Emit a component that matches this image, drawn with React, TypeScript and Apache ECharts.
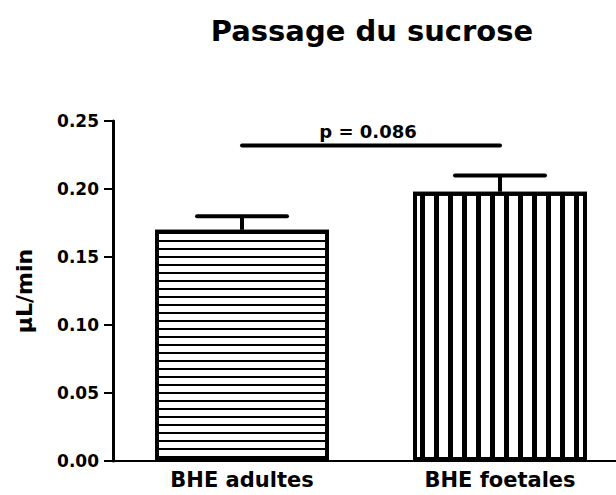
import React, { useEffect, useRef } from "react";
import * as echarts from "echarts";

const titleText = "Passage du sucrose";
const yAxisName = "µL/min";
const categories = ["BHE adultes", "BHE foetales"];
const means = [0.17, 0.198];
const sems = [0.01, 0.012];
const sigLevel = 0.232;
const sigLabel = "p = 0.086";
const yTicks = [0, 0.05, 0.1, 0.15, 0.2, 0.25];

const FONT = "DejaVu Sans";

export default function App() {
  const ref = useRef<HTMLDivElement>(null);
  useEffect(() => {
    document.body.style.margin = "0";
    const chart = echarts.init(ref.current!, null, { renderer: "svg" });
    const errData = categories.map((c, i) => [i, means[i], sems[i]]);
    chart.setOption({
      animation: false,
      backgroundColor: "#ffffff",
      title: {
        text: titleText,
        left: 367,
        top: 11,
        textAlign: "center",
        textStyle: { fontFamily: FONT, fontWeight: "bold", fontSize: 29, color: "#000" },
      },
      grid: { left: 113, top: 121, bottom: 34, width: 516, outerBoundsMode: "none", containLabel: false },
      xAxis: {
        type: "category",
        data: categories,
        axisLine: { lineStyle: { color: "#000", width: 2 } },
        axisTick: { alignWithLabel: true, length: 7, lineStyle: { color: "#000", width: 2 } },
        axisLabel: { fontFamily: FONT, fontWeight: "bold", fontSize: 21, color: "#000", margin: 8 },
      },
      yAxis: {
        type: "value",
        min: yTicks[0],
        max: yTicks[yTicks.length - 1],
        interval: 0.05,
        name: yAxisName,
        nameLocation: "middle",
        nameGap: 78,
        nameTextStyle: { fontFamily: FONT, fontWeight: "bold", fontSize: 22, color: "#000" },
        splitLine: { show: false },
        axisLine: { show: true, lineStyle: { color: "#000", width: 3 } },
        axisTick: { show: true, length: 9, lineStyle: { color: "#000", width: 2 } },
        axisLabel: {
          fontFamily: FONT,
          fontWeight: "bold",
          fontSize: 17,
          color: "#000",
          margin: 14,
          formatter: (v: number) => v.toFixed(2),
        },
      },
      series: [
        {
          type: "bar",
          barWidth: 174,
          data: means.map((v, i) => ({
            value: v,
            itemStyle:
              i === 0
                ? {
                    color: "#fff",
                    borderColor: "#000",
                    borderWidth: 4,
                    decal: {
                      symbol: "rect",
                      symbolSize: 1,
                      color: "#000",
                      backgroundColor: "#fff",
                      dashArrayX: [20, 0],
                      dashArrayY: [2, 5.5],
                    },
                  }
                : {
                    color: "#fff",
                    borderColor: "#000",
                    borderWidth: 4,
                    decal: {
                      symbol: "rect",
                      symbolSize: 1,
                      color: "#000",
                      backgroundColor: "#fff",
                      dashArrayX: [5, 8.2],
                      dashArrayY: [20, 0],
                    },
                  },
          })),
          z: 2,
        },
        {
          type: "custom",
          data: errData,
          z: 3,
          renderItem: (params: any, api: any) => {
            const x = api.value(0);
            const m = api.value(1);
            const s = api.value(2);
            const p0 = api.coord([x, m]);
            const p1 = api.coord([x, m + s]);
            const half = 45;
            return {
              type: "group",
              children: [
                {
                  type: "line",
                  shape: { x1: p0[0], y1: p0[1], x2: p1[0], y2: p1[1] },
                  style: { stroke: "#000", lineWidth: 4 },
                },
                {
                  type: "line",
                  shape: { x1: p1[0] - half, y1: p1[1], x2: p1[0] + half, y2: p1[1] },
                  style: { stroke: "#000", lineWidth: 4, lineCap: "round" },
                },
              ],
            };
          },
        },
        {
          type: "custom",
          data: [[0, 1, sigLevel]],
          z: 3,
          renderItem: (params: any, api: any) => {
            const a = api.coord([api.value(0), api.value(2)]);
            const b = api.coord([api.value(1), api.value(2)]);
            return {
              type: "group",
              children: [
                {
                  type: "line",
                  shape: { x1: a[0], y1: a[1], x2: b[0], y2: b[1] },
                  style: { stroke: "#000", lineWidth: 4, lineCap: "round" },
                },
                {
                  type: "text",
                  x: (a[0] + b[0]) / 2 - 3,
                  y: a[1] - 5,
                  style: {
                    text: sigLabel,
                    fontFamily: FONT,
                    fontWeight: "bold",
                    fontSize: 18,
                    fill: "#000",
                    align: "center",
                    verticalAlign: "bottom",
                  },
                },
              ],
            };
          },
        },
      ],
    });
    return () => chart.dispose();
  }, []);
  return <div ref={ref} style={{ width: 616, height: 495 }} />;
}
